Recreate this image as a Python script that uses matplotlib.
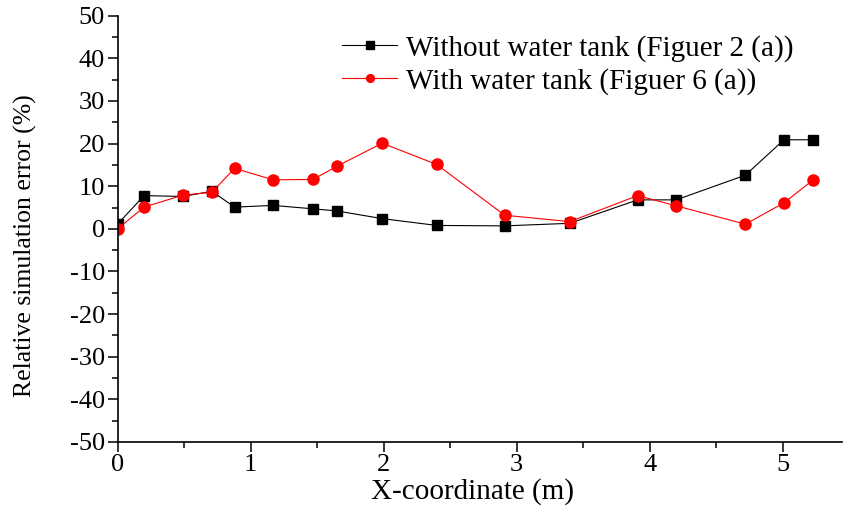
import matplotlib
matplotlib.use('Agg')
import matplotlib.pyplot as plt
from matplotlib.ticker import MultipleLocator

plt.rcParams['font.family'] = ['Liberation Serif', 'DejaVu Serif']
plt.rcParams['axes.unicode_minus'] = False

# data
x_without = [0.0, 0.20, 0.49, 0.71, 0.88, 1.17, 1.47, 1.65, 1.99, 2.40, 2.91, 3.40, 3.91, 4.20, 4.72, 5.01, 5.23]
err_without = [1.1, 7.8, 7.6, 8.8, 5.1, 5.5, 4.7, 4.2, 2.4, 0.8, 0.7, 1.3, 6.8, 6.8, 12.6, 20.9, 20.9]

x_with = [0.0, 0.20, 0.49, 0.71, 0.88, 1.17, 1.47, 1.65, 1.99, 2.40, 2.91, 3.40, 3.91, 4.20, 4.72, 5.01, 5.23]
err_with = [0.0, 5.1, 7.9, 8.6, 14.2, 11.5, 11.6, 14.7, 20.1, 15.1, 3.2, 1.7, 7.8, 5.4, 1.1, 6.1, 11.5]

labels = ['Without water tank (Figuer 2 (a))', 'With water tank (Figuer 6 (a))']

fig = plt.figure(figsize=(8.43, 5.08), dpi=100)
ax = fig.add_axes([0.1394, 0.13, 0.86, 0.839])

ax.plot(x_without, err_without, color='black', lw=0.8, marker='s', ms=7.5,
        mfc='black', mec='black', label=labels[0])
ax.plot(x_with, err_with, color='red', lw=0.8, marker='o', ms=8,
        mfc='red', mec='red', label=labels[1])

ax.set_xlim(0, 5.45)
ax.set_ylim(-50, 50)
ax.xaxis.set_major_locator(MultipleLocator(1))
ax.xaxis.set_minor_locator(MultipleLocator(0.5))
ax.yaxis.set_major_locator(MultipleLocator(10))
ax.yaxis.set_minor_locator(MultipleLocator(5))
ax.tick_params(which='major', direction='out', length=7, width=1.1, labelsize=19, pad=2)
ax.tick_params(which='minor', direction='out', length=4, width=1.1)

for s in ['top', 'right']:
    ax.spines[s].set_visible(False)
for s in ['left', 'bottom']:
    ax.spines[s].set_linewidth(1.2)

ax.set_xlabel('X-coordinate (m)', fontsize=21, labelpad=2)
ax.xaxis.set_label_coords(0.489, -0.085)
ax.set_ylabel('Relative simulation error (%)', fontsize=18.5)
ax.yaxis.set_label_coords(-0.111, 0.46)

ax.legend(loc='upper left', bbox_to_anchor=(342 / 843, 1 - 35 / 508),
          bbox_transform=fig.transFigure, frameon=False, borderpad=0,
          borderaxespad=0, fontsize=21, handlelength=1.9, handletextpad=0.3,
          labelspacing=0.2, markerscale=0.7)

fig.savefig('out.png', dpi=100)
